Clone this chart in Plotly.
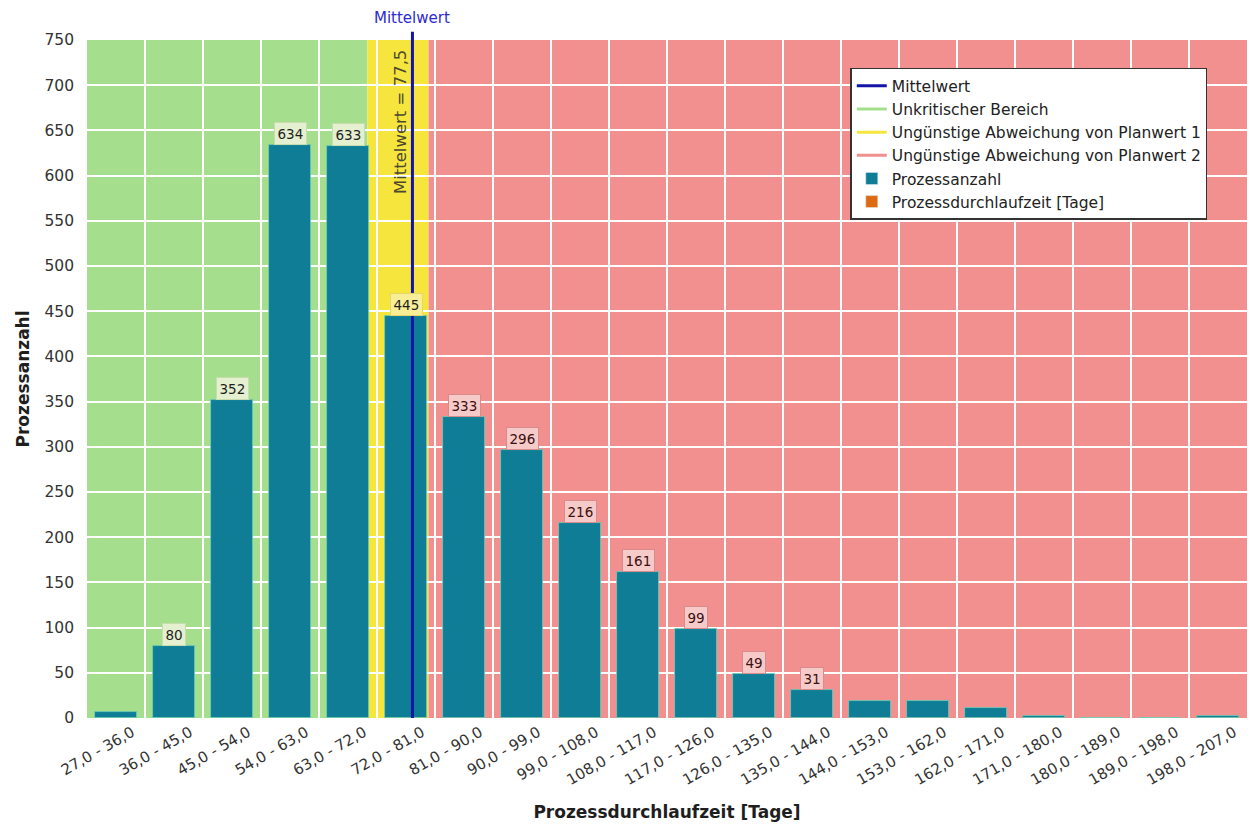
import plotly.graph_objects as go

# Klassen der Prozessdurchlaufzeit (Tage) und Prozessanzahl je Klasse
class_lo = [27, 36, 45, 54, 63, 72, 81, 90, 99, 108, 117, 126, 135, 144, 153, 162, 171, 180, 189, 198]
class_hi = [36, 45, 54, 63, 72, 81, 90, 99, 108, 117, 126, 135, 144, 153, 162, 171, 180, 189, 198, 207]
counts = [7, 80, 352, 634, 633, 445, 333, 296, 216, 161, 99, 49, 31, 19, 19, 11, 2, 0, 0, 2]
tick_labels = [f"{a},0 - {b},0" for a, b in zip(class_lo, class_hi)]

mean_value = 77.5
planwert_1 = 70.5   # Grenze unkritisch / Abweichung 1
planwert_2 = 80.0   # Grenze Abweichung 1 / Abweichung 2
label_min = 30      # kleinere Balken ohne Wertelabel

GREEN = "#a5df8e"
YELLOW = "#f6e53d"
RED = "#f29090"
TEAL = "#0e7d95"
NAVY = "#1414a6"
ORANGE = "#dd6a10"
FONT = "DejaVu Sans"

centers = [(a + b) / 2 for a, b in zip(class_lo, class_hi)]
x_min, x_max = class_lo[0], class_hi[-1]

fig = go.Figure()

fig.add_trace(go.Bar(
    x=centers, y=counts, width=6.5,
    marker=dict(color=TEAL, line=dict(color="#6fcfb8", width=0.8)),
    showlegend=False, hoverinfo="x+y",
))

# Legendeneinträge
legend_items = [
    ("Mittelwert", "line", NAVY),
    ("Unkritischer Bereich", "line", GREEN),
    ("Ungünstige Abweichung von Planwert 1", "line", YELLOW),
    ("Ungünstige Abweichung von Planwert 2", "line", RED),
    ("Prozessanzahl", "bar", TEAL),
    ("Prozessdurchlaufzeit [Tage]", "bar", ORANGE),
]
for name, kind, col in legend_items:
    if kind == "line":
        fig.add_trace(go.Scatter(x=[None], y=[None], mode="lines", name=name,
                                 line=dict(color=col, width=3)))
    else:
        fig.add_trace(go.Bar(x=[None], y=[None], name=name, marker_color=col))

# Hintergrundbereiche
shapes = []
for x0, x1, col in [(x_min, planwert_1, GREEN), (planwert_1, planwert_2, YELLOW), (planwert_2, x_max, RED)]:
    shapes.append(dict(type="rect", xref="x", yref="paper", x0=x0, x1=x1, y0=0, y1=1,
                       fillcolor=col, line=dict(width=0), layer="below"))
# Mittelwertlinie
shapes.append(dict(type="line", xref="x", yref="paper", x0=mean_value, x1=mean_value,
                   y0=0, y1=1.012, line=dict(color=NAVY, width=3), layer="above"))

annotations = []
for c, v in zip(centers, counts):
    if v < label_min:
        continue
    if c < planwert_1:
        bg, bd, fc = "#e4f0cf", "#c9dcae", "#1e1e1e"
    elif c < planwert_2:
        bg, bd, fc = "#f8ee96", "#e6d66a", "#1e1e1e"
    else:
        bg, bd, fc = "#f7caca", "#d98a8a", "#3a1010"
    annotations.append(dict(x=c, y=v, xref="x", yref="y", text=str(v), showarrow=False,
                            yanchor="bottom", yshift=0, bgcolor=bg, bordercolor=bd,
                            borderwidth=1, borderpad=2.5,
                            font=dict(family=FONT, size=13.5, color=fc)))

annotations.append(dict(x=mean_value, y=1.016, xref="x", yref="paper", text="Mittelwert",
                        showarrow=False, yanchor="bottom",
                        font=dict(family=FONT, size=15, color="#2b2bd6")))
annotations.append(dict(x=mean_value, y=0.988, xref="x", yref="paper",
                        text="Mittelwert = " + f"{mean_value:.1f}".replace(".", ","),
                        textangle=-90, showarrow=False, xanchor="right", yanchor="top",
                        xshift=-1, font=dict(family=FONT, size=16.5, color="#4a4830")))

fig.update_layout(
    width=1251, height=830,
    margin=dict(l=87, r=4, t=40, b=112),
    paper_bgcolor="white", plot_bgcolor="white",
    font=dict(family=FONT, size=13, color="#333333"),
    bargap=0, barmode="overlay",
    shapes=shapes, annotations=annotations,
    showlegend=True,
    legend=dict(x=0.658, y=0.959, xanchor="left", yanchor="top",
                bgcolor="white", bordercolor="#333333", borderwidth=1.5,
                font=dict(family=FONT, size=15.5, color="#222222"),
                itemwidth=30, tracegroupgap=0),
    xaxis=dict(range=[x_min, x_max], tickvals=centers, ticktext=tick_labels,
               tickangle=-30, showgrid=False, zeroline=False, showline=False,
               ticks="", ticklabelshift=16, ticklabelstandoff=2,
               tickfont=dict(family=FONT, size=15, color="#333333"),
               minor=dict(tickvals=class_hi[:-1], showgrid=True, gridcolor="white",
                          gridwidth=2, ticks=""),
               title=dict(text="<b>Prozessdurchlaufzeit [Tage]</b>", standoff=18,
                          font=dict(family=FONT, size=17, color="#1e1e1e"))),
    yaxis=dict(range=[0, 750], dtick=50, showgrid=True, gridcolor="white", gridwidth=2,
               zeroline=False, showline=False, ticks="", ticklabelstandoff=12,
               tickfont=dict(family=FONT, size=15.5, color="#333333"),
               title=dict(text="<b>Prozessanzahl</b>", standoff=10,
                          font=dict(family=FONT, size=17, color="#1e1e1e"))),
)

fig.write_html("out.html")
